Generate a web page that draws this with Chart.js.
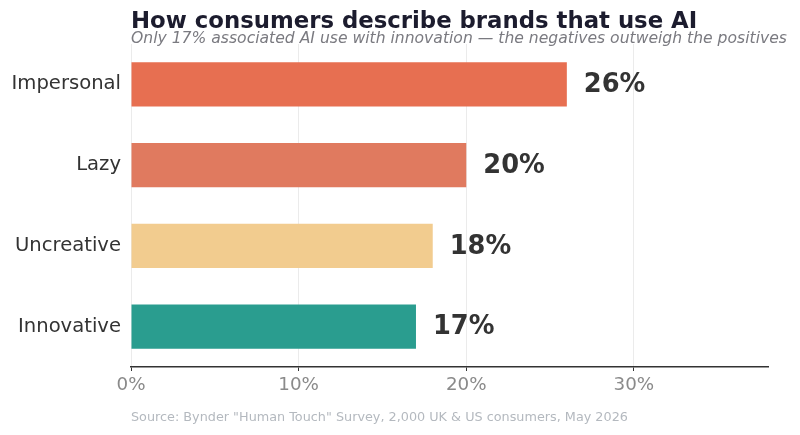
<!DOCTYPE html>
<html lang="en">
<head>
<meta charset="UTF-8">
<title>How consumers describe brands that use AI</title>
<style>
    html, body {
        margin: 0;
        padding: 0;
        background: #ffffff;
    }
    .wrap {
        width: 800px;
        height: 435px;
    }
</style>
<script src="https://cdn.jsdelivr.net/npm/chart.js"></script>
</head>
<body>
<div class="wrap">
    <canvas id="barChart" width="800" height="435"></canvas>
</div>
<script>
const categories = ['Impersonal', 'Lazy', 'Uncreative', 'Innovative'];
const shares = [26, 20, 18, 17];
const barColors = ['#E76F51', '#E07A5F', '#F2CC8F', '#2A9D8F'];
const xTicks = [0, 10, 20, 30];

const titleText = 'How consumers describe brands that use AI';
const subtitleText = 'Only 17% associated AI use with innovation \u2014 the negatives outweigh the positives';
const sourceText = 'Source: Bynder "Human Touch" Survey, 2,000 UK & US consumers, May 2026';

const FONT = '"DejaVu Sans", sans-serif';

// title, subtitle, source and the value labels next to each bar
const textPlugin = {
    id: 'texts',
    afterDraw(chart) {
        const ctx = chart.ctx;
        const area = chart.chartArea;
        ctx.save();
        ctx.textAlign = 'left';
        ctx.textBaseline = 'alphabetic';

        ctx.fillStyle = '#1c1c2e';
        ctx.font = 'bold 22.8px ' + FONT;
        ctx.fillText(titleText, area.left, 28);

        ctx.fillStyle = '#7a7a80';
        ctx.font = 'italic 15.6px ' + FONT;
        ctx.fillText(subtitleText, area.left, 43);

        ctx.fillStyle = '#b4b9bf';
        ctx.font = '12.8px ' + FONT;
        ctx.fillText(sourceText, area.left, 421);

        const meta = chart.getDatasetMeta(0);
        ctx.fillStyle = '#333333';
        ctx.font = 'bold 25.7px ' + FONT;
        ctx.textBaseline = 'middle';
        meta.data.forEach((bar, i) => {
            ctx.fillText(shares[i] + '%', bar.x + 17, bar.y + 1);
        });
        ctx.restore();
    }
};

const ctx = document.getElementById('barChart').getContext('2d');
const barChart = new Chart(ctx, {
    type: 'bar',
    data: {
        labels: categories,
        datasets: [{
            data: shares,
            backgroundColor: barColors,
            borderWidth: 0,
            barPercentage: 0.545,
            categoryPercentage: 1.0
        }]
    },
    options: {
        indexAxis: 'y',
        responsive: false,
        animation: false,
        layout: {
            padding: { top: 44, right: 32, bottom: 0, left: 0 }
        },
        plugins: {
            legend: { display: false },
            tooltip: { enabled: false }
        },
        scales: {
            x: {
                min: 0,
                max: 38,
                afterBuildTicks(scale) {
                    scale.ticks = xTicks.map(v => ({ value: v }));
                },
                afterFit(scale) {
                    scale.height = 68;
                },
                grid: {
                    color: '#ebebeb',
                    lineWidth: 1,
                    tickLength: 4,
                    tickColor: '#333333'
                },
                border: {
                    color: '#333333',
                    width: 1.5
                },
                ticks: {
                    color: '#8a8a8a',
                    font: { family: FONT, size: 18.3 },
                    padding: 3,
                    callback: v => v + '%'
                }
            },
            y: {
                afterFit(scale) {
                    scale.width = 131;
                },
                grid: { display: false },
                border: { display: false },
                ticks: {
                    color: '#333333',
                    font: { family: FONT, size: 19.6 },
                    padding: 2
                }
            }
        }
    },
    plugins: [textPlugin]
});
</script>
</body>
</html>
